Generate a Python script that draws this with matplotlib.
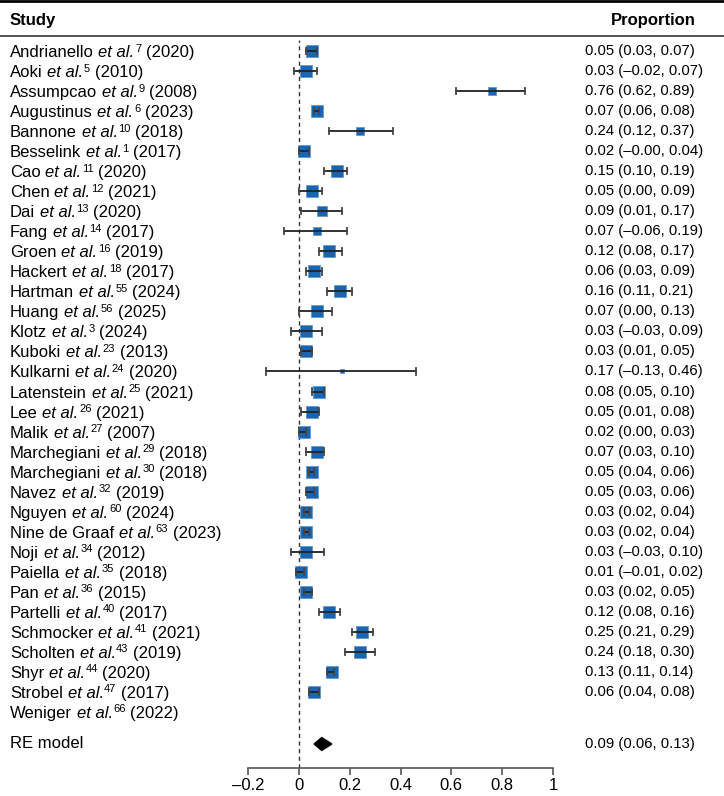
import matplotlib.pyplot as plt
from matplotlib.patches import Polygon
import numpy as np

plt.rcParams['font.family'] = ['Liberation Sans', 'DejaVu Sans']

# ===============================
#  DATA
# ===============================
authors = ["Andrianello", "Aoki", "Assumpcao", "Augustinus", "Bannone", "Besselink",
           "Cao", "Chen", "Dai", "Fang", "Groen", "Hackert", "Hartman", "Huang",
           "Klotz", "Kuboki", "Kulkarni", "Latenstein", "Lee", "Malik",
           "Marchegiani", "Marchegiani", "Navez", "Nguyen", "Nine de Graaf", "Noji",
           "Paiella", "Pan", "Partelli", "Schmocker", "Scholten", "Shyr", "Strobel",
           "Weniger"]
refs = [7, 5, 9, 6, 10, 1, 11, 12, 13, 14, 16, 18, 55, 56, 3, 23, 24, 25, 26, 27,
        29, 30, 32, 60, 63, 34, 35, 36, 40, 41, 43, 44, 47, 66]
years = [2020, 2010, 2008, 2023, 2018, 2017, 2020, 2021, 2020, 2017, 2019, 2017,
         2024, 2025, 2024, 2013, 2020, 2021, 2021, 2007, 2018, 2018, 2019, 2024,
         2023, 2012, 2018, 2015, 2017, 2021, 2019, 2020, 2017, 2022]
est = [0.05, 0.03, 0.76, 0.07, 0.24, 0.02, 0.15, 0.05, 0.09, 0.07, 0.12, 0.06,
       0.16, 0.07, 0.03, 0.03, 0.17, 0.08, 0.05, 0.02, 0.07, 0.05, 0.05, 0.03,
       0.03, 0.03, 0.01, 0.03, 0.12, 0.25, 0.24, 0.13, 0.06, None]
lower = [0.03, -0.02, 0.62, 0.06, 0.12, -0.00, 0.10, 0.00, 0.01, -0.06, 0.08, 0.03,
         0.11, 0.00, -0.03, 0.01, -0.13, 0.05, 0.01, 0.00, 0.03, 0.04, 0.03, 0.02,
         0.02, -0.03, -0.01, 0.02, 0.08, 0.21, 0.18, 0.11, 0.04, None]
upper = [0.07, 0.07, 0.89, 0.08, 0.37, 0.04, 0.19, 0.09, 0.17, 0.19, 0.17, 0.09,
         0.21, 0.13, 0.09, 0.05, 0.46, 0.10, 0.08, 0.03, 0.10, 0.06, 0.06, 0.04,
         0.04, 0.10, 0.02, 0.05, 0.16, 0.29, 0.30, 0.14, 0.08, None]
# printed CI labels (Besselink shows "-0.00")
ci_text = ["0.05 (0.03, 0.07)", "0.03 (\u20130.02, 0.07)", "0.76 (0.62, 0.89)",
           "0.07 (0.06, 0.08)", "0.24 (0.12, 0.37)", "0.02 (\u20130.00, 0.04)",
           "0.15 (0.10, 0.19)", "0.05 (0.00, 0.09)", "0.09 (0.01, 0.17)",
           "0.07 (\u20130.06, 0.19)", "0.12 (0.08, 0.17)", "0.06 (0.03, 0.09)",
           "0.16 (0.11, 0.21)", "0.07 (0.00, 0.13)", "0.03 (\u20130.03, 0.09)",
           "0.03 (0.01, 0.05)", "0.17 (\u20130.13, 0.46)", "0.08 (0.05, 0.10)",
           "0.05 (0.01, 0.08)", "0.02 (0.00, 0.03)", "0.07 (0.03, 0.10)",
           "0.05 (0.04, 0.06)", "0.05 (0.03, 0.06)", "0.03 (0.02, 0.04)",
           "0.03 (0.02, 0.04)", "0.03 (\u20130.03, 0.10)", "0.01 (\u20130.01, 0.02)",
           "0.03 (0.02, 0.05)", "0.12 (0.08, 0.16)", "0.25 (0.21, 0.29)",
           "0.24 (0.18, 0.30)", "0.13 (0.11, 0.14)", "0.06 (0.04, 0.08)", ""]
# relative study weight (drives square size)
weights = [10, 10, 8, 11, 8, 11, 11, 10, 9, 7.5, 11, 11, 11, 10, 10, 10.5, 4, 11,
           11, 10, 10, 10, 10.5, 10, 10, 10, 10.5, 10, 11, 10.5, 10, 10, 10, None]

re_est, re_lo, re_hi = 0.09, 0.06, 0.13

xticks = [-0.2, 0, 0.2, 0.4, 0.6, 0.8, 1]
xtick_labels = ["\u20130.2", "0", "0.2", "0.4", "0.6", "0.8", "1"]

# ===============================
#  FIGURE
# ===============================
W, H = 724, 796
fig = plt.figure(figsize=(W / 100, H / 100), dpi=100)
renderer = fig.canvas.get_renderer()

ax_left, ax_right = 248 / W, 553 / W
ax_top_px, ax_bot_px = 40, 768
ax = fig.add_axes([ax_left, 1 - ax_bot_px / H, ax_right - ax_left, (ax_bot_px - ax_top_px) / H])

row0_px, row_step = 51, 20.03
ax.set_xlim(-0.2, 1)
ax.set_ylim((ax_bot_px - row0_px) / row_step, (ax_top_px - row0_px) / row_step)

fs_study = 12
fs_sup = 8
fs_num = 10.7
blue = "#1b64ae"


def text_width(s, **kw):
    t = fig.text(0, 0, s, **kw)
    w = t.get_window_extent(renderer).width
    t.remove()
    return w


space_w = text_width("x x", fontsize=fs_study) - text_width("xx", fontsize=fs_study)


def study_label(x_px, yc_px, name, ref, year):
    """Write 'Name et al.^ref (year)' piece by piece, baseline aligned."""
    base = 1 - (yc_px + 6) / H
    sup = 1 - (yc_px + 0.5) / H
    pieces = [(name, dict(fontsize=fs_study), base, space_w),
              ("et al.", dict(fontsize=fs_study, style="italic"), base, 0.5),
              (str(ref), dict(fontsize=fs_sup), sup, space_w),
              (f"({year})", dict(fontsize=fs_study), base, 0)]
    x = x_px
    for s, kw, yy, gap in pieces:
        t = fig.text(x / W, yy, s, va="baseline", ha="left", **kw)
        x += t.get_window_extent(renderer).width + gap


n = len(authors)
for i in range(n):
    yc = row0_px + i * row_step
    study_label(10, yc, authors[i], refs[i], years[i])
    fig.text(585 / W, 1 - yc / H, ci_text[i], fontsize=fs_num, va="center", ha="left")
    if est[i] is None:
        continue
    ax.plot([lower[i], upper[i]], [i, i], color="#222222", lw=1.3, zorder=4)
    for xe in (lower[i], upper[i]):
        ax.plot([xe, xe], [i - 0.16, i + 0.16], color="#444444", lw=1.3, zorder=4)
    ax.plot(est[i], i, marker="s", ms=weights[i] * 0.8, color=blue,
            markeredgecolor="#5f98d2", markeredgewidth=0.6, zorder=3)

# RE model
re_px = 744
re_row = (re_px - row0_px) / row_step
diamond = Polygon([[re_lo, re_row], [re_est, re_row - 0.32],
                   [re_hi, re_row], [re_est, re_row + 0.32]],
                  closed=True, color="black", zorder=4)
ax.add_patch(diamond)
fig.text(10 / W, 1 - re_px / H, "RE model", fontsize=fs_study, va="center", ha="left")
fig.text(585 / W, 1 - re_px / H, f"{re_est:.2f} ({re_lo:.2f}, {re_hi:.2f})",
         fontsize=fs_num, va="center", ha="left")

# reference line at 0
ax.axvline(0, color="#333333", lw=1, ls=(0, (3, 2.5)), zorder=1)

# axes styling
for s in ("top", "right", "left"):
    ax.spines[s].set_visible(False)
ax.spines["bottom"].set_color("#555555")
ax.spines["bottom"].set_linewidth(1.2)
ax.set_yticks([])
ax.set_xticks(xticks)
ax.set_xticklabels(xtick_labels, fontsize=fs_study)
ax.tick_params(axis="x", direction="out", length=5, width=1.2, color="#555555", pad=2)

# header
fig.add_artist(plt.Line2D([0, 1], [1 - 1 / H, 1 - 1 / H], color="black", lw=2))
fig.add_artist(plt.Line2D([0, 1], [1 - 36 / H, 1 - 36 / H], color="#333333", lw=1.2))
fig.text(10 / W, 1 - 20 / H, "Study", fontsize=12, fontweight="bold",
         va="center", ha="left")
fig.text(696 / W, 1 - 20 / H, "Proportion", fontsize=12, fontweight="bold",
         va="center", ha="right")

fig.savefig("out.png", dpi=100)
